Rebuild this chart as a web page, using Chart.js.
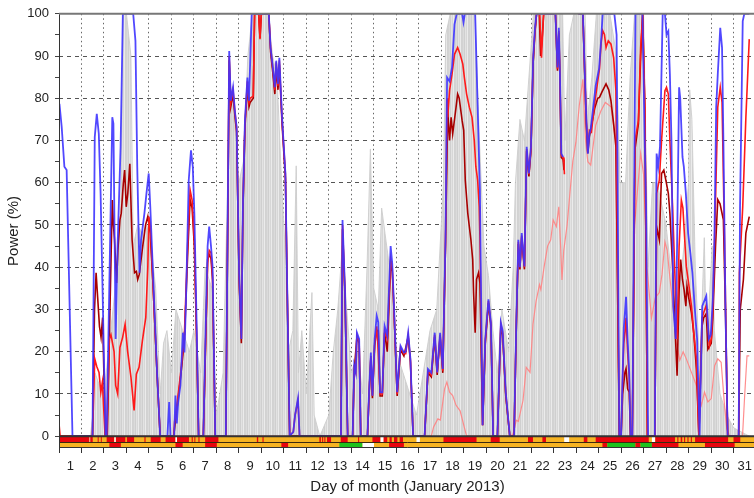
<!DOCTYPE html>
<html>
<head>
<meta charset="utf-8">
<script src="https://cdn.jsdelivr.net/npm/chart.js@4"></script>
<style>
  html, body { margin: 0; padding: 0; background: #fff; overflow: hidden; }
  #wrap { width: 762px; height: 498px; }
</style>
</head>
<body>
<div id="wrap"><canvas id="powerChart"></canvas></div>
<script>
// hourly power traces, [day, percent]; null = missing data
const powerBlue = [
  [1.0,78],[1.02,78.7],[1.12,73.2],[1.24,63.8],[1.34,63],[1.6,0],
  [2.49,0],[2.59,70.8],[2.68,76.3],[2.77,71.6],[2.85,57.5],[3.07,0],
  [3.12,0],[3.37,75.5],[3.42,74],[3.52,23],[3.6,44],[3.74,68.5],[3.84,100],[4.3,100],[4.4,93.6],[4.48,63.8],[4.58,38.7],[4.65,46.5],[4.8,52.8],[4.89,57.5],[4.99,62.2],[5.06,54.3],[5.18,38.7],[5.36,15.1],[5.5,0],
  [5.82,0],[5.9,8.1],[5.96,0],[6.12,0],[6.18,9.6],[6.24,3],[6.3,8],[6.4,12],[6.51,24.5],[6.58,19.8],[6.65,32.4],[6.77,60.6],[6.87,67.7],[6.95,63.8],[7.02,52.8],[7.12,26.9],[7.21,0],
  [7.42,0],[7.5,20],[7.61,45],[7.68,49.6],[7.76,45],[7.83,40.2],[7.95,0],
  [8.42,0],[8.5,50],[8.57,91.2],[8.64,79.4],[8.74,82.6],[8.82,77.1],[8.9,73.2],[9.01,38.7],[9.11,23],[9.18,54.3],[9.27,74.7],[9.38,84.9],[9.45,79.4],[9.57,100],[10.33,100],[10.41,92],[10.51,87.3],[10.6,82.6],[10.66,88.9],[10.74,83.4],[10.8,89.6],[10.92,75.5],[11.07,62.2],[11.15,35],[11.26,0],[11.42,1],[11.5,5],[11.63,9],[11.7,0],
  [13.54,0],[13.61,51.2],[13.72,34.7],[13.84,0],[14.06,0],[14.13,16.7],[14.2,15],[14.25,24.5],[14.35,23],[14.42,0],[14.72,0],[14.79,10.4],[14.87,19.8],[14.94,9.6],[15.04,23],[15.13,28.5],[15.2,27],[15.28,10.4],[15.38,10.4],[15.48,26.1],[15.6,23.8],[15.75,45],[15.82,41],[15.9,30.8],[16.04,10.4],[16.19,21.4],[16.34,19.8],[16.42,20],[16.53,24.5],[16.63,18.3],[16.75,0],
  [17.26,0],[17.41,15.9],[17.56,15],[17.71,24.5],[17.82,15.1],[17.95,24.5],[18.07,15.9],[18.19,46.5],[18.26,84.9],[18.37,84],[18.48,87.3],[18.59,97.5],[18.69,100],[18.93,100],[18.99,98],[19.05,100],[19.51,100],[19.62,77.9],[19.72,58.3],[19.84,2.6],[19.96,23],[20.1,32.4],[20.21,26.9],[20.31,0],
  [20.5,0],[20.65,26.9],[20.73,25],[20.87,10.4],[21.05,0],[21.24,0],[21.34,26.9],[21.43,46.5],[21.5,40],[21.58,48.1],[21.7,40.2],[21.8,68.5],[21.9,62.2],[21.99,68.5],[22.09,89.6],[22.17,96.7],[22.24,100],[23.08,100],[23.17,87.3],[23.23,96.7],[23.28,85.7],[23.34,66.9],[23.42,66.1],
  [23.7,null],
  [24.1,100],[24.3,100],[24.45,75.5],[24.52,66.9],[24.59,71.6],[24.65,72.8],[24.87,83],[25.02,87],[25.11,93.6],[25.18,100],[25.7,100],[25.8,95],[25.92,0],
  [26.0,0],[26.07,15.1],[26.12,25.7],[26.17,29.2],[26.22,33],[26.29,23],[26.36,15.1],[26.42,0],
  [26.5,0],[26.64,100],[26.95,100],[27.05,70],[27.11,54.3],[27.2,0],
  [27.5,0],[27.58,66.9],[27.65,63.8],[27.73,68.5],[27.85,100],[27.95,100],[28.02,95.1],[28.1,95.9],[28.17,85.7],[28.24,70],[28.32,30.8],[28.43,23],[28.49,45],[28.58,82.6],[28.63,80],[28.73,66.1],[28.79,63.8],[28.88,57.5],[28.98,48.1],[29.08,43.4],[29.17,38.7],[29.27,30.8],[29.38,23],[29.49,0],
  [29.61,30.8],[29.67,31.6],[29.79,33.2],[29.9,23],[29.99,24],[30.08,32.4],[30.15,46.5],[30.23,77.9],[30.3,85.7],[30.41,96.7],[30.49,92],[30.55,70],[30.64,30.8],[30.74,0],
  [31.23,0],[31.29,54.3],[31.41,98.3],[31.48,100],[31.7,100]
];

const powerRed = [
  [1.0,3],[1.05,0],
  [2.49,0],[2.59,18.3],[2.68,16.5],[2.78,15.1],[2.86,10.4],[2.93,12.8],[3.05,0],
  [3.12,0],[3.24,23],[3.31,24],[3.45,20],[3.52,12],[3.61,10],[3.71,21],[3.83,23.4],[3.94,26.5],[4.05,20.2],[4.2,14],[4.34,6.1],[4.44,14.7],[4.56,16.3],[4.71,22.6],[4.86,28.1],[4.95,40],[5.0,52],[5.06,50],[5.18,36],[5.36,15],[5.5,0],
  [6.1,0],[6.14,3.4],[6.28,8.9],[6.43,15.9],[6.58,24.5],[6.73,46.5],[6.83,58.3],[6.92,55.9],[7.02,46.5],[7.12,24],[7.21,0],
  [7.42,0],[7.5,18],[7.61,41],[7.68,44],[7.76,43.4],[7.83,38],[7.95,0],
  [8.42,0],[8.5,48],[8.57,90],[8.64,79],[8.74,82],[8.82,77],[8.9,73],[9.01,38],[9.11,23],[9.18,54],[9.27,74],[9.38,84],[9.45,79],[9.5,80],[9.64,80.5],[9.7,100],[9.88,100],[9.94,94],[10.0,100],[10.33,100],[10.41,92],[10.51,87],[10.6,82],[10.66,88.5],[10.74,83],[10.8,89],[10.92,75],[11.07,62],[11.15,35],[11.26,0],[11.42,1],[11.5,5],[11.63,8.5],[11.7,0],
  [13.54,0],[13.61,50],[13.72,34],[13.84,0],[14.06,0],[14.13,16],[14.2,15],[14.25,24],[14.35,22.5],[14.42,0],[14.72,0],[14.79,10],[14.87,19],[14.94,9.6],[15.04,22],[15.13,26],[15.18,22],[15.28,10],[15.38,10],[15.48,25],[15.6,23],[15.75,42],[15.82,40],[15.9,30],[16.04,10],[16.19,21],[16.34,19.5],[16.42,19.5],[16.53,24],[16.63,18],[16.75,0],
  [17.26,0],[17.41,15.5],[17.56,14.5],[17.71,24],[17.82,15],[17.95,24],[18.07,15.5],[18.19,46],[18.26,80],[18.29,75.5],[18.37,81.8],[18.48,85.7],[18.59,90.4],[18.73,92],[18.84,90.4],[18.96,88.1],[19.03,84.9],[19.13,81],[19.25,77.9],[19.37,75.5],[19.47,70],[19.54,63.8],[19.62,60.6],[19.69,54.3],[19.72,47.3],[19.84,2.6],[19.96,22.5],[20.1,32],[20.21,26.5],[20.31,0],
  [20.5,0],[20.65,26.5],[20.73,24.5],[20.87,10],[21.05,0],[21.24,0],[21.34,26.5],[21.43,46],[21.5,40],[21.58,47.5],[21.7,40],[21.8,68],[21.9,62],[21.99,68],[22.09,89],[22.17,96],[22.24,100],[22.38,100],[22.46,89.6],[22.55,100],[23.08,100],[23.17,87],[23.23,96],[23.28,85],[23.34,66.5],[23.42,66],[23.46,64.5],[23.48,62],
  [23.7,null],
  [24.1,100],[24.3,100],[24.45,75],[24.52,68],[24.59,72.4],[24.68,72],[24.82,78.6],[24.96,84],[25.04,87],[25.11,93],[25.18,96],[25.26,95.1],[25.33,92],[25.43,93.6],[25.55,92.8],[25.67,89.6],[25.77,81.8],[25.92,0],
  [26.0,0],[26.07,14],[26.12,22],[26.17,24.5],[26.22,28],[26.29,20],[26.36,14],[26.42,0],
  [26.5,0],[26.62,70],[26.77,74.7],[26.87,92],[26.96,100],[27.06,77.9],[27.17,0],
  [27.5,0],[27.58,57.5],[27.7,60.6],[27.8,70],[27.95,81.8],[28.02,82.6],[28.1,81],[28.17,70],[28.29,54.3],[28.39,38.7],[28.49,23],[28.58,45],[28.68,55.9],[28.75,54],[28.83,46.5],[28.9,40.2],[29.02,35.5],[29.13,30.8],[29.23,24.5],[29.35,18.3],[29.46,0],
  [29.6,28],[29.67,29.2],[29.79,31],[29.93,21.4],[30.01,23],[30.08,30],[30.2,55.9],[30.3,77.9],[30.41,82.6],[30.49,79],[30.6,46.5],[30.74,0],
  [31.23,0],[31.26,38.7],[31.41,54.3],[31.55,75.5],[31.7,94]
];

const powerDarkRed = [
  [1.0,0],
  [2.49,0],[2.58,30],[2.65,38.7],[2.72,32.8],[2.8,26],[2.87,23.4],[2.94,28.1],[3.06,0],
  [3.15,0],[3.27,30.8],[3.37,55.9],[3.42,50],[3.47,46.5],[3.56,36.3],[3.62,44.1],[3.71,51.2],[3.77,52.8],[3.86,59.8],[3.92,63],[3.99,54.3],[4.06,57.5],[4.15,64.5],[4.25,46.5],[4.36,38.7],[4.44,39],[4.5,37.1],[4.57,38.3],[4.7,44],[4.85,50],[4.95,52],[5.06,48],[5.18,36],[5.36,15],[5.5,0],
  [6.1,0],[6.28,8],[6.43,15],[6.58,23],[6.73,44],[6.83,56],[6.92,54],[7.02,45],[7.12,23],[7.21,0],
  [7.42,0],[7.5,17],[7.61,41.8],[7.68,43],[7.76,42],[7.83,37],[7.95,0],
  [8.42,0],[8.5,47],[8.57,89],[8.64,78],[8.74,81],[8.82,76],[8.9,72],[9.01,37],[9.11,22],[9.18,53],[9.27,73],[9.38,83],[9.45,78],[9.5,79],[9.64,80],[9.7,100],[9.88,100],[9.94,94.3],[10.0,100],[10.33,100],[10.41,91],[10.51,86],[10.6,81],[10.66,87],[10.74,82],[10.8,88],[10.92,74],[11.07,61],[11.15,34],[11.26,0],
  [13.54,0],[13.61,49],[13.72,33],[13.84,0],[14.06,0],[14.13,15.5],[14.25,23.5],[14.35,22],[14.42,0],[14.72,0],[14.79,9.5],[14.87,18.5],[14.94,9],[15.04,21.5],[15.13,25],[15.2,25],[15.28,9.5],[15.38,9.5],[15.48,24.5],[15.6,20],[15.75,41],[15.82,39],[15.9,29.5],[16.04,9.5],[16.19,20.5],[16.34,19],[16.53,23.5],[16.63,17.5],[16.75,0],
  [17.26,0],[17.41,15],[17.56,14],[17.71,23.5],[17.82,14.5],[17.95,23.5],[18.07,15],[18.19,45],[18.29,77],[18.37,70],[18.44,75.5],[18.51,71.6],[18.66,77.9],[18.73,81],[18.8,80],[18.93,74.7],[19.0,72.4],[19.07,60.6],[19.18,52.8],[19.25,49.6],[19.32,46.5],[19.4,41.8],[19.44,33.9],[19.51,24.5],[19.57,37.1],[19.66,38.7],[19.72,36.3],[19.84,2.6],[19.96,22],[20.1,31.5],[20.21,26],[20.31,0],
  [20.5,0],[20.65,26],[20.73,24],[20.87,9.5],[21.05,0],[21.24,0],[21.34,26],[21.43,45.5],[21.5,39.5],[21.58,47],[21.7,39.5],[21.8,67.5],[21.9,61.5],[21.99,67.5],[22.09,88.5],[22.17,95.5],[22.24,100],[22.36,100],[22.42,90],[22.5,95],[22.56,100],[23.08,100],[23.17,86.5],[23.23,95.5],[23.28,84.5],[23.34,66],[23.42,65.5],[23.46,63],
  [23.7,null],
  [24.1,100],[24.3,100],[24.45,74],[24.52,67],[24.59,71],[24.7,74],[24.82,77.5],[24.96,80],[25.04,80.2],[25.15,81.5],[25.33,83.4],[25.45,82],[25.55,79.4],[25.67,73.9],[25.77,68.5],[25.92,0],
  [26.0,0],[26.07,10],[26.17,15.1],[26.22,16],[26.29,11.2],[26.36,10.4],[26.42,0],
  [26.5,0],[26.62,68],[26.77,74],[26.87,90],[26.96,100],[27.06,76],[27.17,0],
  [27.5,0],[27.58,49.6],[27.7,46.5],[27.8,62.2],[27.9,63],[27.99,60.6],[28.1,57.5],[28.17,52.8],[28.29,40.2],[28.39,26.9],[28.49,14.3],[28.58,34.7],[28.65,41.8],[28.73,37.1],[28.8,34.7],[28.88,30.8],[28.93,35.5],[29.02,32.4],[29.13,29.2],[29.23,24.5],[29.35,15.9],[29.46,0],
  [29.6,26],[29.67,28],[29.79,29],[29.86,20.6],[30.01,22],[30.08,28],[30.2,45],[30.3,56],[30.4,55],[30.55,51.2],[30.64,30],[30.74,0],
  [31.23,0],[31.3,30],[31.44,37.1],[31.55,48.1],[31.7,52]
];

const powerPink = [
  [1.0,0],[17.56,0],[17.66,2.2],[17.85,4.1],[17.96,3.8],[18.15,11.2],[18.25,12.8],[18.37,10.4],[18.51,9.6],[18.66,7.3],[18.84,6],[19.03,2],[19.13,0],
  [21.1,0],[21.2,0.6],[21.34,3.8],[21.43,3.5],[21.64,8.5],[21.78,16.3],[21.95,15.1],[22.08,26.5],[22.22,32],[22.37,35.9],[22.43,34.7],[22.58,40.2],[22.73,45],[22.87,46.5],[22.98,51.2],[23.12,49.6],[23.23,54.3],[23.31,45],[23.37,37],[23.45,44],[23.6,50],[23.71,56.7],[23.85,65],[23.99,69.6],[24.14,78.3],[24.3,84.5],[24.42,70],[24.52,65],[24.65,64.2],[24.87,73.6],[25.1,77],[25.3,79],[25.55,78],[25.75,70],[25.92,0],
  [26.5,0],[26.6,50],[26.87,67],[27.0,62],[27.15,40],[27.35,28],[27.52,32.8],[27.7,34],[27.82,38.3],[27.95,46],[28.05,44],[28.2,36],[28.32,30],[28.46,22],[28.61,18],[28.76,20],[28.9,18.3],[29.13,15.1],[29.35,12],[29.57,7.3],[29.71,10.4],[29.86,8.1],[30.01,8.9],[30.16,16.7],[30.3,18.3],[30.45,17.5],[30.6,7.3],[30.7,1.8],[30.82,0],[31.4,0],[31.5,10],[31.6,19],[31.7,19]
];

// upper edge of the ensemble members (grey band)
const ensembleTop = [
  [1.0,0],[2.4,0],[2.5,5],[2.6,15],[2.8,12],[3.0,10],[3.2,20],[3.4,30],[3.6,40],[3.75,55],[3.85,100],[4.0,100],[4.2,90],[4.3,45],[4.5,50],[4.7,48],[4.9,50],[5.1,45],[5.3,35],[5.5,10],[5.65,22],[5.8,25],[6.0,15],[6.2,30],[6.5,25],[6.8,20],[7.0,25],[7.3,15],[7.5,40],[7.8,35],[8.0,5],[8.3,15],[8.5,60],[8.6,85],[8.8,75],[9.0,60],[9.2,65],[9.4,90],[9.6,100],[10.3,100],[10.5,90],[10.7,85],[10.9,60],[11.05,45],[11.2,20],[11.4,25],[11.55,64],[11.65,15],[11.8,25],[12.0,10],[12.25,34],[12.35,5],[12.6,0],[13.0,5],[13.2,20],[13.4,30],[13.6,45],[13.8,30],[14.0,15],[14.3,20],[14.5,10],[14.7,40],[14.85,68],[15.0,35],[15.2,30],[15.35,54],[15.5,48],[15.7,40],[16.0,20],[16.3,15],[16.6,10],[16.9,5],[17.2,15],[17.5,25],[17.8,30],[18.1,60],[18.2,95],[18.4,100],[19.5,100],[19.7,70],[19.9,45],[20.1,38],[20.3,25],[20.5,15],[20.7,30],[21.0,20],[21.2,40],[21.3,60],[21.5,75],[21.7,70],[21.9,85],[22.1,100],[23.4,100],[23.5,70],[23.7,95],[23.9,100],[24.4,100],[24.5,75],[24.7,85],[24.9,100],[25.5,100],[25.8,90],[25.95,60],[26.2,60],[26.4,85],[26.6,100],[27.0,100],[27.2,40],[27.4,60],[27.6,60],[27.8,55],[28.0,50],[28.2,40],[28.4,30],[28.6,35],[28.8,45],[29.0,60],[29.05,82],[29.15,75],[29.3,40],[29.5,15],[29.7,47],[29.8,20],[30.05,45],[30.15,25],[30.4,10],[30.7,5],[31.0,2],[31.7,0]
];

const dayTicks = Array.from({ length: 32 }, (_, i) => i + 1);
const powerTicks = Array.from({ length: 21 }, (_, i) => i * 5);

// status strip under the axis: [from day, to day, state]; rest of the row is 'o'
const statusUpper = [
  [1.0,2.36,'r'],[2.36,2.39,'w'],[2.39,2.5,'r'],[2.72,2.76,'r'],[2.86,2.9,'r'],[3.12,3.46,'r'],[3.46,3.53,'w'],[3.53,3.95,'r'],[4.02,4.34,'r'],[4.8,4.85,'r'],
  [5.08,5.52,'r'],[5.74,6.18,'r'],[6.18,6.25,'w'],[6.25,6.78,'r'],[6.9,6.95,'r'],[7.02,7.06,'r'],[7.2,7.25,'r'],[7.5,8.09,'r'],[9.8,9.86,'r'],[10.05,10.1,'r'],
  [12.58,12.65,'r'],[12.7,12.75,'r'],[12.8,12.85,'r'],[12.92,13.1,'r'],[13.53,13.84,'r'],[14.3,14.35,'r'],[14.94,15.3,'r'],[15.3,15.44,'w'],[15.44,15.6,'r'],[15.7,15.8,'r'],
  [15.9,16.05,'r'],[16.15,16.3,'r'],[16.9,17.05,'w'],[18.1,19.57,'r'],[20.2,20.6,'r'],[21.86,22.08,'r'],[22.5,22.66,'r'],[23.47,23.69,'w'],[24.34,24.5,'r'],[24.87,27.23,'r'],
  [27.37,27.52,'w'],[27.52,28.4,'r'],[28.5,28.55,'r'],[28.65,28.72,'r'],[28.8,28.85,'r'],[28.95,29.0,'r'],[29.1,29.15,'r'],[29.29,30.76,'r'],[31.0,31.3,'r']
];
const statusLower = [
  [3.24,3.75,'r'],[6.18,6.5,'r'],[7.5,8.02,'r'],[10.89,11.19,'r'],[13.47,14.5,'g'],[14.5,15.01,'w'],[15.68,16.34,'r'],
  [25.17,25.39,'r'],[25.39,26.64,'g'],[26.64,26.86,'r'],[26.86,27.37,'g'],[27.37,28.55,'r'],[29.73,31.05,'r']
];

const stateColor = { o: '#f6b322', r: '#e8050d', g: '#1dc21d', w: '#ffffff' };
const FONT = "'Liberation Sans', Arial, Helvetica, sans-serif";

const toXY = arr => arr.map(p => ({ x: p[0], y: p[1] }));

// soft vertical hatching for the ensemble band
function hatchPattern() {
  const c = document.createElement('canvas');
  c.width = 7; c.height = 4;
  const g = c.getContext('2d');
  const shades = ['#d3d3d3', '#dbdbdb', '#cfcfcf', '#e3e3e3', '#d7d7d7', '#ebebeb', '#d2d2d2'];
  shades.forEach((s, i) => { g.fillStyle = s; g.fillRect(i, 0, 1, 4); });
  return g.createPattern(c, 'repeat');
}

// status strip below zero, axis lines and the frame on top
const stripPlugin = {
  id: 'statusStrip',
  afterDatasetsDraw(chart) {
    const { ctx, chartArea, scales } = chart;
    const x = scales.x, y = scales.y;
    const rows = [[statusUpper, 0, -1.4], [statusLower, -1.4, -2.8]];
    ctx.save();
    rows.forEach(([segs, top, bot]) => {
      const yt = y.getPixelForValue(top), yb = y.getPixelForValue(bot);
      ctx.fillStyle = stateColor.o;
      ctx.fillRect(chartArea.left, yt, chartArea.right - chartArea.left, yb - yt);
      segs.forEach(([a, b, s]) => {
        const xa = x.getPixelForValue(a), xb = x.getPixelForValue(b);
        ctx.fillStyle = stateColor[s];
        ctx.fillRect(xa, yt, Math.max(xb - xa, 1), yb - yt);
      });
    });
    ctx.strokeStyle = '#3a2a10';
    ctx.lineWidth = 1;
    const ym = Math.round(y.getPixelForValue(-1.4)) + 0.5;
    ctx.beginPath(); ctx.moveTo(chartArea.left, ym); ctx.lineTo(chartArea.right, ym); ctx.stroke();
    ctx.strokeStyle = '#333';
    const yb = Math.round(chartArea.bottom) - 0.5;
    ctx.beginPath(); ctx.moveTo(chartArea.left, yb); ctx.lineTo(chartArea.right, yb); ctx.stroke();
    const xl = Math.round(chartArea.left) + 0.5;
    ctx.beginPath(); ctx.moveTo(xl, chartArea.top); ctx.lineTo(xl, chartArea.bottom); ctx.stroke();
    ctx.lineWidth = 2;
    const y0 = y.getPixelForValue(0);
    ctx.beginPath(); ctx.moveTo(chartArea.left, y0); ctx.lineTo(chartArea.right, y0); ctx.stroke();
    ctx.strokeStyle = '#777';
    ctx.beginPath(); ctx.moveTo(chartArea.left, chartArea.top); ctx.lineTo(chartArea.right, chartArea.top); ctx.stroke();
    ctx.restore();
  }
};

const lineSet = (label, data, color, width) => ({
  label: label,
  data: toXY(data),
  borderColor: color,
  borderWidth: width,
  pointRadius: 0,
  tension: 0,
  fill: false,
  spanGaps: false
});

new Chart(document.getElementById('powerChart'), {
  type: 'line',
  data: {
    datasets: [
      lineSet('Blue', powerBlue, 'rgba(62, 52, 255, 0.9)', 1.8),
      lineSet('Red', powerRed, '#ff1a1a', 1.6),
      lineSet('Dark red', powerDarkRed, '#a80000', 1.6),
      lineSet('Pink', powerPink, 'rgba(255, 130, 130, 0.9)', 1.2),
      {
        label: 'Ensemble',
        data: toXY(ensembleTop),
        borderColor: 'rgba(205, 205, 205, 0.9)',
        borderWidth: 1,
        backgroundColor: hatchPattern(),
        fill: 'origin',
        pointRadius: 0,
        tension: 0
      }
    ]
  },
  options: {
    responsive: true,
    maintainAspectRatio: false,
    animation: false,
    layout: { padding: { top: 11, right: 0, left: 0, bottom: 0 } },
    plugins: { legend: { display: false }, tooltip: { enabled: false } },
    scales: {
      x: {
        type: 'linear',
        min: 1,
        max: 32,
        afterBuildTicks: s => { s.ticks = dayTicks.map(v => ({ value: v })); },
        afterFit: s => { s.height = 50; },
        ticks: {
          autoSkip: false,
          maxRotation: 0,
          labelOffset: 11.3,
          padding: 6,
          color: '#222',
          font: { family: FONT, size: 13 },
          callback: v => (v < 32 ? String(v) : '')
        },
        grid: {
          color: '#666',
          lineWidth: 1,
          tickColor: '#333',
          tickLength: 5,
          tickBorderDash: []
        },
        border: { display: false, dash: [1.5, 3] },
        title: {
          display: true,
          text: 'Day of month (January 2013)',
          color: '#222',
          font: { family: FONT, size: 15 },
          padding: { top: 0, bottom: 2 }
        }
      },
      y: {
        min: -2.8,
        max: 100,
        afterBuildTicks: s => { s.ticks = powerTicks.map(v => ({ value: v })); },
        afterFit: s => { s.width = 59; },
        ticks: {
          autoSkip: false,
          padding: 6,
          color: '#222',
          font: { family: FONT, size: 13 },
          callback: v => (v % 10 === 0 ? String(v) : '')
        },
        grid: {
          color: c => (c.tick && c.tick.value % 10 === 0 && c.tick.value > 0 && c.tick.value < 100 ? '#555' : 'rgba(0,0,0,0)'),
          lineWidth: 1,
          tickColor: '#444',
          tickLength: 4,
          tickBorderDash: []
        },
        border: { display: false, dash: [4, 4] },
        title: {
          display: true,
          text: 'Power (%)',
          color: '#222',
          font: { family: FONT, size: 15 },
          padding: { top: 5, bottom: 0 }
        }
      }
    }
  },
  plugins: [stripPlugin]
});
</script>
</body>
</html>
